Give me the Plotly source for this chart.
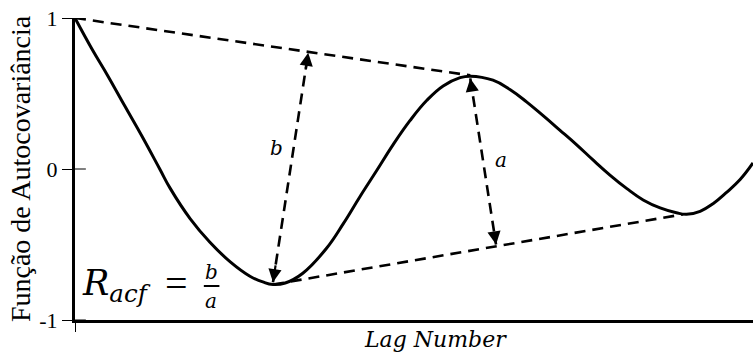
import plotly.graph_objects as go

# Autocovariance function read at lag positions (lag scale 0..100)
lag = [0, 2.5, 4.87, 7.37, 9.84, 12.5, 14.0, 17.0, 19.9, 22.9, 25.8, 27.7, 29.2, 31.0,
       33.6, 37.1, 39.6, 42.0, 44.5, 46.9, 49.4, 51.9, 54.3, 56.8, 58.3,
       61.65, 64.2, 66.6, 69.0, 71.5, 74.0, 76.4, 78.9, 81.4, 83.8, 86.3, 88.7,
       90.2, 92.2, 94.1, 96.1, 98.1, 100]
acf = [1.0, 0.795, 0.615, 0.415, 0.22, 0.0, -0.125, -0.33, -0.485, -0.615, -0.71, -0.748, -0.765, -0.755,
       -0.69, -0.525, -0.36, -0.185, -0.01, 0.16, 0.32, 0.455, 0.55, 0.605, 0.615,
       0.588, 0.525, 0.445, 0.355, 0.258, 0.16, 0.06, -0.04, -0.13, -0.205, -0.258, -0.29,
       -0.30, -0.28, -0.23, -0.155, -0.07, 0.04]

# Envelope lines: origin -> first peak, first trough -> second trough
upper_x = [0, 58.3]
upper_y = [1.0, 0.62]
lower_x = [29.2, 89.7]
lower_y = [-0.765, -0.30]

# Distance arrows (tail, head) for b and a
b_x = [29.2, 34.4]
b_y = [-0.75, 0.77]
a_x = [58.3, 62.1]
a_y = [0.60, -0.50]

y_ticks = [-1, 0, 1]
y_labels = ["-1", "0", "1"]

FONT = "Liberation Serif"
IFONT = "DejaVu Serif"
DASH = "11px,7px"
DASH_W = 2.6

fig = go.Figure()

for seg_x, seg_y in ((upper_x, upper_y), (lower_x, lower_y), (b_x, b_y), (a_x, a_y)):
    fig.add_trace(go.Scatter(x=seg_x, y=seg_y, mode="lines",
                             line=dict(color="black", width=DASH_W, dash=DASH),
                             hoverinfo="skip"))

fig.add_trace(go.Scatter(x=lag, y=acf, mode="lines",
                         line=dict(color="black", width=3, shape="spline", smoothing=1.2),
                         hoverinfo="skip"))


def arrow_head(xs, ys, tip_index):
    """Arrowhead at one end of a segment, pointing outward."""
    tail_index = 1 - tip_index
    tx = xs[tip_index] + 0.08 * (xs[tail_index] - xs[tip_index])
    ty = ys[tip_index] + 0.08 * (ys[tail_index] - ys[tip_index])
    fig.add_annotation(x=xs[tip_index], y=ys[tip_index], ax=tx, ay=ty,
                       xref="x", yref="y", axref="x", ayref="y",
                       showarrow=True, arrowhead=2, arrowsize=1.2, arrowwidth=2.2,
                       arrowcolor="black", standoff=0, text="")


for seg_x, seg_y in ((b_x, b_y), (a_x, a_y)):
    arrow_head(seg_x, seg_y, 0)
    arrow_head(seg_x, seg_y, 1)

# Segment labels
fig.add_annotation(x=29.7, y=0.14, text="<i>b</i>", showarrow=False,
                   font=dict(family=IFONT, size=20, color="black"))
fig.add_annotation(x=62.9, y=0.06, text="<i>a</i>", showarrow=False,
                   font=dict(family=IFONT, size=20, color="black"))

# Ratio formula
fig.add_annotation(x=0.8, y=-0.77, xanchor="left", yanchor="middle",
                   text="<i>R</i><sub><i>acf</i></sub>", showarrow=False,
                   font=dict(family=IFONT, size=35, color="black"))
fig.add_annotation(x=15.0, y=-0.76, text="=", showarrow=False,
                   font=dict(family=FONT, size=40, color="black"))
fig.add_annotation(x=20.1, y=-0.685, text="<i>b</i>", showarrow=False,
                   font=dict(family=IFONT, size=20, color="black"))
fig.add_annotation(x=20.1, y=-0.875, text="<i>a</i>", showarrow=False,
                   font=dict(family=IFONT, size=20, color="black"))
fig.add_shape(type="line", x0=19.0, x1=21.3, y0=-0.775, y1=-0.775,
              xref="x", yref="y", line=dict(color="black", width=2))

# Inner half of the y tick marks
for v in y_ticks:
    fig.add_shape(type="line", x0=0, x1=1.6, y0=v, y1=v, xref="x", yref="y",
                  line=dict(color="black", width=1))

# Axis titles
fig.add_annotation(xref="paper", yref="paper", x=0.532, y=-0.064,
                   xanchor="center", yanchor="middle",
                   text="<i>Lag Number</i>", showarrow=False,
                   font=dict(family=IFONT, size=22, color="black"))
fig.add_annotation(xref="paper", yref="paper", x=-0.081, y=0.5,
                   xanchor="center", yanchor="middle", textangle=-90,
                   text="Função de Autocovariância", showarrow=False,
                   font=dict(family=FONT, size=28, color="black"))

fig.update_layout(
    width=753, height=354,
    margin=dict(l=75, r=0, t=18, b=34),
    plot_bgcolor="white", paper_bgcolor="white",
    showlegend=False,
    xaxis=dict(range=[0, 100], showgrid=False, zeroline=False, showline=True,
               linecolor="black", linewidth=3, tickvals=[0], ticks="outside",
               ticklen=9, tickwidth=1, tickcolor="black", showticklabels=False),
    yaxis=dict(range=[-1, 1], showgrid=False, zeroline=False, showline=True,
               linecolor="black", linewidth=3, tickvals=y_ticks, ticktext=y_labels,
               ticks="outside", ticklen=10, tickwidth=1, tickcolor="black",
               tickfont=dict(family=FONT, size=22, color="black")),
)

fig.write_html("out.html")
